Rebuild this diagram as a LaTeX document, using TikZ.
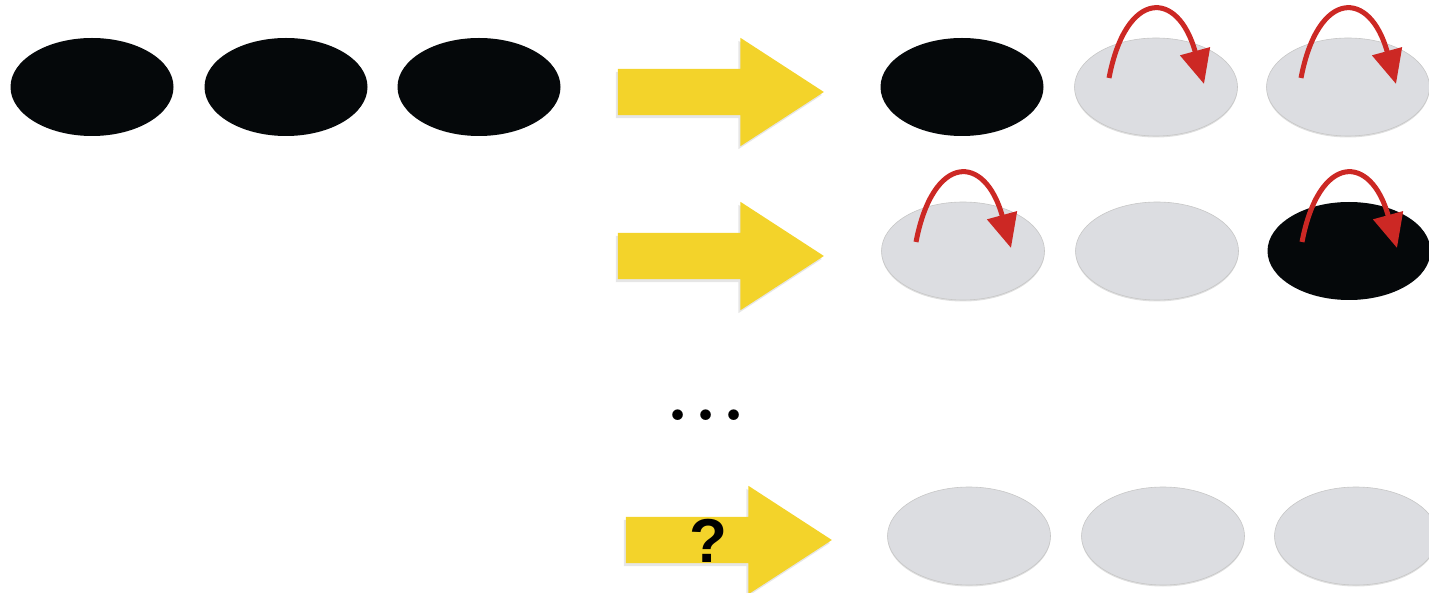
\documentclass[tikz,border=0pt]{standalone}
\usepackage{fontspec}
\setmainfont{Liberation Sans}
\newfontfamily\dotfont{Latin Modern Roman}
\usetikzlibrary{shapes.geometric,shapes.arrows,shadows,arrows.meta,calc}

\definecolor{bead}{RGB}{5,8,10}
\definecolor{pale}{RGB}{220,221,225}
\definecolor{flow}{RGB}{243,211,42}
\definecolor{hop}{RGB}{204,40,36}

\tikzset{
  slot/.style={ellipse, minimum width=163pt, minimum height=98pt, inner sep=0pt},
  full/.style={slot, fill=bead},
  empty/.style={slot, fill=pale, draw=black!22, line width=0.6pt,
    drop shadow={shadow xshift=0pt, shadow yshift=-1.5pt, opacity=0.25}},
  blockarrow/.style={single arrow, fill=flow, inner xsep=0pt, inner ysep=23pt,
    minimum height=206pt,
    single arrow head extend=31pt, single arrow tip angle=66,
    drop shadow={shadow xshift=-2pt, shadow yshift=-3pt, opacity=0.2}},
  jump/.style={hop, line width=5pt, -{Triangle[length=34pt,width=30pt]}},
}

\newcommand{\hopover}[1]{%
  \coordinate (#1-from) at ($(#1)+(-47,-9)$);
  \coordinate (#1-to) at ($(#1)+(48,-3)$);
  \draw[jump] (#1-from) .. controls ($(#1)+(-30,-98)$) and ($(#1)+(22,-98)$) .. (#1-to);
}

\begin{document}
\begin{tikzpicture}[x=1pt,y=-1pt]
\useasboundingbox (0,0) rectangle (1429,593);

% starting row
\node[full] (s1) at (92,87) {};
\node[full] (s2) at (286,87) {};
\node[full] (s3) at (479,87) {};

% step one
\node[blockarrow] (a1) at (703,92) {};
\node[full]  (r1) at (962,87) {};
\node[empty] (r2) at (1156,87) {};
\node[empty] (r3) at (1348,87) {};
\hopover{r2}
\hopover{r3}

% step two
\node[blockarrow] (a2) at (703,256) {};
\node[empty] (t1) at (963,251) {};
\node[empty] (t2) at (1157,251) {};
\node[full]  (t3) at (1349,251) {};
\hopover{t1}
\hopover{t3}

% later steps
\node[font=\dotfont\bfseries\fontsize{74}{74}\selectfont, inner sep=0pt] (more) at (706,415)
  {.\hspace{4.5pt}.\hspace{4.5pt}.};

% final step
\node[blockarrow] (a4) at (711,540) {};
\node[font=\bfseries\fontsize{62}{62}\selectfont, inner sep=0pt] (ask) at (708,541) {?};
\node[empty] (f1) at (969,536) {};
\node[empty] (f2) at (1163,536) {};
\node[empty] (f3) at (1356,536) {};
\end{tikzpicture}
\end{document}
